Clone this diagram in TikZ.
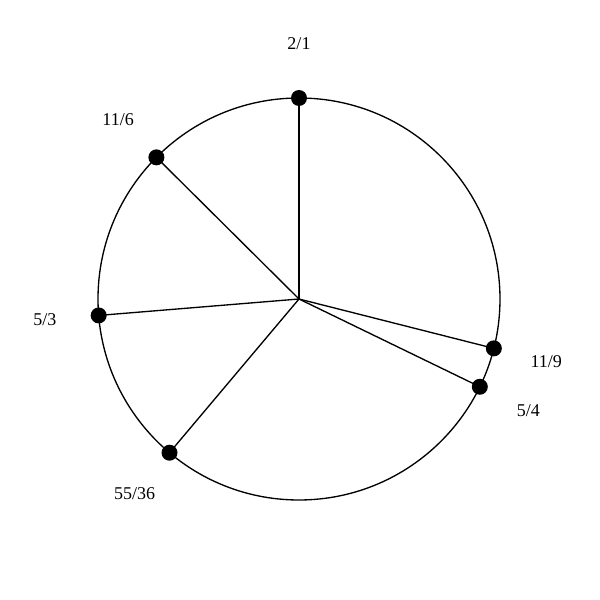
\documentclass[tikz,border=0pt]{standalone}
\usepackage{fontspec}
\setmainfont{Liberation Serif}
\usepackage{tikz}
\usetikzlibrary{positioning, calc}
\tikzstyle{spoke} = [line width=1pt]
\tikzstyle{dot} = [circle, fill=black, inner sep=0pt, minimum size=12pt]
\tikzstyle{ratio} = [font=\fontsize{13.5}{16}\selectfont, inner sep=0pt]

\begin{document}
\begin{tikzpicture}[x=0.75pt, y=0.75pt]
\useasboundingbox (-299,-301) rectangle (301,299);

% Pitch circle
\coordinate (center) at (0,0);
\draw[line width=1pt] (center) circle (201);

% Ratio points
\node[dot] (p21) at (90:201) {};
\node[dot] (p116) at (135.19:201) {};
\node[dot] (p53) at (184.69:201) {};
\node[dot] (p5536) at (229.89:201) {};
\node[dot] (p54) at (-25.89:201) {};
\node[dot] (p119) at (-14.22:201) {};

% Labels
\node[ratio] (l21) at (90:255) {2/1};
\node[ratio] (l116) at (135.19:255) {11/6};
\node[ratio] (l53) at (184.69:255) {5/3};
\node[ratio] (l5536) at (229.89:255) {55/36};
\node[ratio] (l54) at (-25.89:255) {5/4};
\node[ratio] (l119) at (-14.22:255) {11/9};

% Spokes
\draw[spoke] (center) -- (p21.center);
\draw[spoke] (center) -- (p116.center);
\draw[spoke] (center) -- (p53.center);
\draw[spoke] (center) -- (p5536.center);
\draw[spoke] (center) -- (p54.center);
\draw[spoke] (center) -- (p119.center);

\end{tikzpicture}
\end{document}
